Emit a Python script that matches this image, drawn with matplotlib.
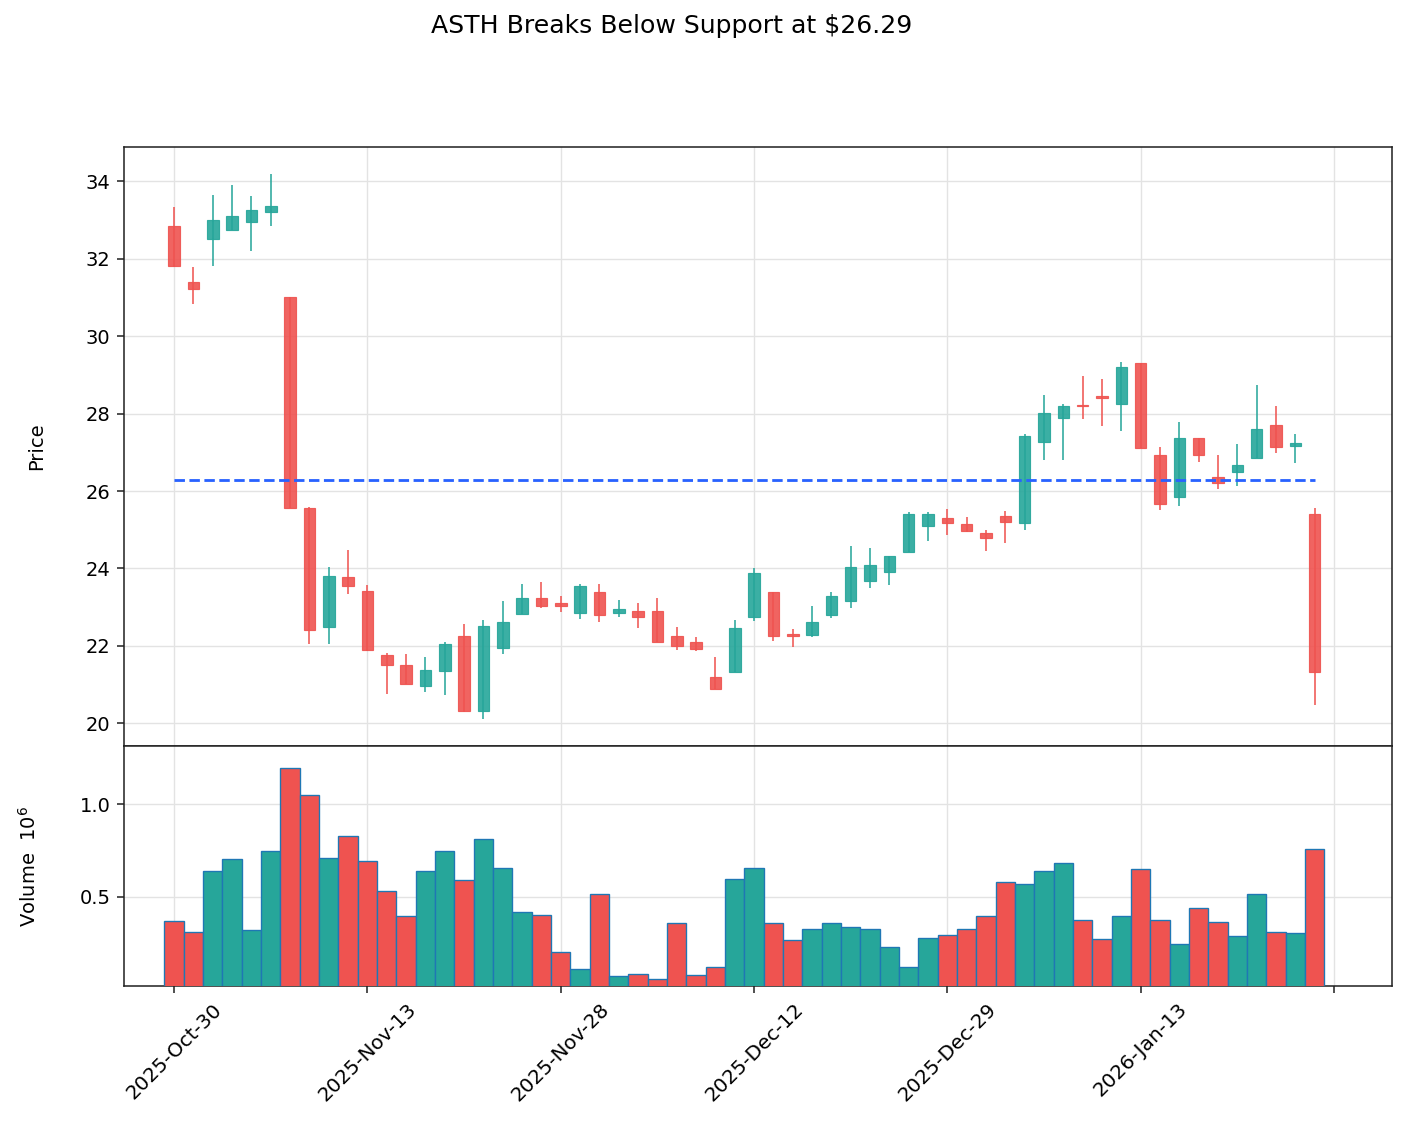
import matplotlib
matplotlib.use("Agg")
import matplotlib.pyplot as plt
from matplotlib.ticker import FixedLocator, FuncFormatter
import numpy as np
import pandas as pd

# ---------------- data ----------------
start_date = "2025-10-30"
market_holidays = ["2025-11-27", "2025-12-25", "2026-01-01", "2026-01-19"]

opens = [32.85, 31.39, 32.50, 32.73, 32.94, 33.20, 31.02, 25.56, 22.49, 23.78,
         23.42, 21.77, 21.51, 20.97, 21.35, 22.25, 20.31, 21.96, 22.83, 23.24,
         23.11, 22.85, 23.39, 22.86, 22.90, 22.90, 22.26, 22.10, 21.20, 21.32,
         22.76, 23.40, 22.31, 22.28, 22.80, 23.17, 23.68, 23.91, 24.43, 25.10,
         25.30, 25.16, 24.91, 25.35, 25.17, 27.26, 27.88, 28.23, 28.46, 28.26,
         29.31, 26.94, 25.84, 27.38, 26.35, 26.48, 26.85, 27.71, 27.16, 25.42]
highs = [33.33, 31.79, 33.64, 33.90, 33.62, 34.18, 31.02, 25.58, 24.05, 24.49,
         23.57, 21.82, 21.78, 21.72, 22.11, 22.56, 22.66, 23.15, 23.61, 23.64,
         23.30, 23.61, 23.59, 23.18, 23.10, 23.23, 22.48, 22.22, 21.71, 22.66,
         24.00, 23.40, 22.43, 23.02, 23.40, 24.59, 24.53, 24.31, 25.46, 25.46,
         25.54, 25.34, 25.00, 25.49, 27.48, 28.48, 28.25, 28.96, 28.89, 29.32,
         29.31, 27.13, 27.77, 27.38, 26.92, 27.21, 28.73, 28.19, 27.47, 25.55]
lows = [31.78, 30.84, 31.81, 32.73, 32.21, 32.85, 25.55, 22.04, 22.04, 23.33,
        21.87, 20.77, 21.02, 20.80, 20.73, 20.30, 20.12, 21.79, 22.83, 22.98,
        22.88, 22.70, 22.62, 22.75, 22.46, 22.11, 21.90, 21.87, 20.90, 21.32,
        22.64, 22.13, 21.97, 22.23, 22.72, 22.99, 23.49, 23.57, 24.43, 24.70,
        24.86, 24.94, 24.46, 24.65, 25.00, 26.79, 26.81, 27.85, 27.69, 27.55,
        27.10, 25.52, 25.62, 26.75, 26.05, 26.13, 26.85, 26.98, 26.73, 20.48]
closes = [31.80, 31.21, 33.01, 33.11, 33.25, 33.37, 25.55, 22.42, 23.80, 23.55,
          21.89, 21.51, 21.02, 21.37, 22.05, 20.33, 22.52, 22.62, 23.24, 23.04,
          23.04, 23.55, 22.81, 22.96, 22.76, 22.11, 21.99, 21.91, 20.90, 22.46,
          23.88, 22.27, 22.25, 22.61, 23.28, 24.03, 24.08, 24.31, 25.40, 25.42,
          25.17, 24.98, 24.80, 25.20, 27.41, 28.01, 28.19, 28.20, 28.40, 29.20,
          27.10, 25.66, 27.38, 26.92, 26.22, 26.68, 27.61, 27.15, 27.23, 21.32]
volumes = [371000, 308000, 638000, 705000, 319000, 746000, 1197000, 1051000, 710000, 828000,
           692000, 529000, 395000, 638000, 746000, 589000, 813000, 656000, 417000, 400000,
           199000, 112000, 518000, 72000, 83000, 58000, 357000, 78000, 121000, 596000,
           656000, 360000, 268000, 324000, 360000, 339000, 328000, 228000, 120000, 277000,
           295000, 328000, 399000, 583000, 572000, 638000, 681000, 377000, 274000, 399000,
           649000, 377000, 246000, 442000, 366000, 286000, 518000, 312000, 306000, 759000]

support_level = 26.29
title = "ASTH Breaks Below Support at $26.29"

# ---------------- styling ----------------
UP = "#26a69a"
DOWN = "#ef5350"
GRID = "#e3e3e3"

plt.rcParams["font.family"] = ["DejaVu Sans"]

dates = pd.bdate_range(start=start_date, periods=len(opens), freq="C",
                       holidays=market_holidays)
n = len(opens)
x = np.arange(n)
o = np.array(opens); h = np.array(highs); l = np.array(lows); c = np.array(closes)
v = np.array(volumes, dtype=float)
up = c >= o
colors = np.where(up, UP, DOWN)

DPI = 140
W, H = 1407, 1126
fig = plt.figure(figsize=(W / DPI, H / DPI), dpi=DPI)
ax = fig.add_axes([124 / W, 1 - 746 / H, (1392 - 124) / W, (746 - 147) / H])
axv = fig.add_axes([124 / W, 1 - 986 / H, (1392 - 124) / W, (986 - 746) / H], sharex=ax)

for a in (ax, axv):
    a.set_axisbelow(True)
    a.grid(True, color=GRID, linewidth=0.7)
    for s in a.spines.values():
        s.set_color("#222222")
        s.set_linewidth(0.8)

# wicks
ax.vlines(x, l, h, colors=colors, linewidth=0.8, zorder=2)
# bodies
body_bottom = np.minimum(o, c)
body_height = np.maximum(np.abs(c - o), 0.03)
ax.bar(x, body_height, bottom=body_bottom, width=0.6, color=colors, alpha=0.9,
       edgecolor=colors, linewidth=0.6, zorder=3)

# support line
ax.hlines(support_level, 0, n - 1, colors="#2962ff", linestyles="--", linewidth=1.45, zorder=4)

pmin, pmax = l.min(), h.max()
pad = (pmax - pmin) * 0.05
ax.set_ylim(pmin - pad, pmax + pad)
ax.set_xlim(-2.59, 63.0)
ax.set_ylabel("Price", fontsize=10)
ax.tick_params(axis="y", labelsize=10, color="#222222")
ax.tick_params(axis="x", length=0, labelbottom=False)

# volume
axv.bar(x, v, width=1.0, color=colors, edgecolor="#1f77b4", linewidth=0.7, zorder=3)
axv.set_ylim(0.3 * v.min(), 1.1 * v.max())
axv.yaxis.set_major_locator(FixedLocator([0.5e6, 1.0e6]))
axv.yaxis.set_major_formatter(FuncFormatter(lambda val, pos: f"{val / 1e6:.1f}"))
axv.set_ylabel("Volume  $10^{6}$", fontsize=10)
axv.tick_params(axis="y", labelsize=10, color="#222222")

tick_pos = list(range(0, n + 1, 10))
tick_labels = [dates[i].strftime("%Y-%b-%d") if i < n else "" for i in tick_pos]
axv.set_xticks(tick_pos)
axv.set_xticklabels(tick_labels, rotation=45, ha="center", fontsize=10.3)
axv.tick_params(axis="x", color="#222222")

ax.yaxis.set_label_coords(-0.0618, 0.5)
axv.yaxis.set_label_coords(-0.0666, 0.5)

fig.text(672 / W, 1 - 26 / H, title, ha="center", va="center", fontsize=12.9)

fig.savefig("out.png", dpi=DPI)
